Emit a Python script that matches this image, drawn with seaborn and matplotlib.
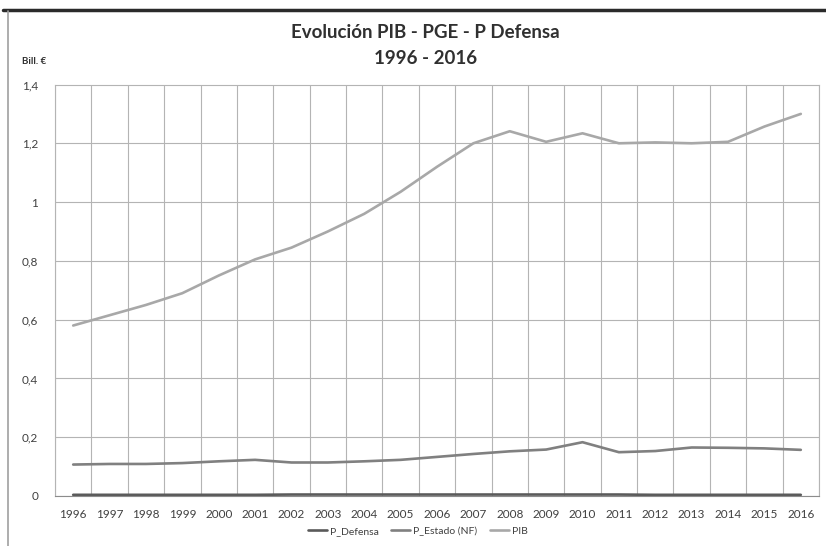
import pandas as pd
import matplotlib.pyplot as plt
import seaborn as sns
from matplotlib.lines import Line2D
from matplotlib.ticker import FuncFormatter, MultipleLocator

# ------------------------------------------------------------
# DATA (billones de euros)
# ------------------------------------------------------------
years = list(range(1996, 2017))
pib = [0.580, 0.615, 0.650, 0.690, 0.750, 0.805, 0.845, 0.900, 0.960, 1.035,
       1.120, 1.200, 1.241, 1.205, 1.234, 1.200, 1.203, 1.200, 1.205, 1.257, 1.300]
p_estado = [0.107, 0.109, 0.109, 0.112, 0.118, 0.123, 0.114, 0.114, 0.118, 0.123,
            0.133, 0.143, 0.152, 0.158, 0.183, 0.149, 0.153, 0.165, 0.164, 0.162, 0.157]
p_defensa = [0.004, 0.004, 0.004, 0.004, 0.004, 0.004, 0.005, 0.005, 0.005, 0.005,
             0.005, 0.005, 0.005, 0.005, 0.005, 0.005, 0.004, 0.004, 0.004, 0.004, 0.004]

series_names = ['P_Defensa', 'P_Estado (NF)', 'PIB']
colors = {'P_Defensa': '#5a5a5a', 'P_Estado (NF)': '#808080', 'PIB': '#a8a8a8'}

df = pd.DataFrame({'Año': years, 'P_Defensa': p_defensa,
                   'P_Estado (NF)': p_estado, 'PIB': pib})
long_df = df.melt(id_vars='Año', var_name='Serie', value_name='Valor')

# ------------------------------------------------------------
# PLOT
# ------------------------------------------------------------
sns.set_style('white')
plt.rcParams['font.family'] = ['Lato', 'DejaVu Sans']

fig = plt.figure(figsize=(8.26, 5.46), dpi=100)
ax = fig.add_axes([55 / 826, 50 / 546, 764 / 826, 411.5 / 546])

sns.lineplot(data=long_df, x='Año', y='Valor', hue='Serie', hue_order=series_names,
             palette=colors, linewidth=1.9, ax=ax, legend=False)

ax.set_xlim(1995.5, 2016.5)
ax.set_ylim(0, 1.4)
ax.set_xticks(years)
ax.set_xticklabels([str(y) for y in years])
ax.xaxis.set_minor_locator(MultipleLocator(1, offset=0.5))
ax.yaxis.set_major_locator(MultipleLocator(0.2))
ax.yaxis.set_major_formatter(FuncFormatter(
    lambda v, _: '0' if abs(v) < 1e-9 else ('1' if abs(v - 1) < 1e-9 else f'{v:.1f}'.replace('.', ','))))
ax.grid(False)
ax.grid(True, which='minor', axis='x', color='#b4b4b4', linewidth=0.8)
ax.grid(True, which='major', axis='y', color='#b4b4b4', linewidth=0.8)
ax.tick_params(which='both', length=0, labelsize=8.5, colors='#404040')
ax.tick_params(axis='x', pad=9)
ax.tick_params(axis='y', pad=12)
ax.set_xlabel('')
ax.set_ylabel('')
for side, sp in ax.spines.items():
    sp.set_color('#b4b4b4')
    sp.set_linewidth(0.8)
ax.spines['bottom'].set_color('#8c8c8c')

fig.text(0.515, 1 - 33 / 546, 'Evolución PIB - PGE - P Defensa', ha='center', va='center',
         fontsize=13.5, fontweight='bold', color='#303030')
fig.text(0.515, 1 - 58 / 546, '1996 - 2016', ha='center', va='center',
         fontsize=13.5, fontweight='bold', color='#303030')
fig.text(22 / 826, 1 - 62 / 546, 'Bill. €', ha='left', va='center',
         fontsize=7, fontweight='bold', color='#303030')

handles = [Line2D([0], [0], color=colors[s], lw=1.9) for s in series_names]
fig.legend(handles, series_names, loc='center', bbox_to_anchor=(418 / 826, 1 - 531 / 546),
           ncol=3, frameon=False, fontsize=7.5, handlelength=1.8, handletextpad=0.3,
           columnspacing=1.2, labelcolor='#404040')

# chart frame lines
fig.add_artist(Line2D([3 / 826, 1], [1 - 10 / 546, 1 - 10 / 546], color='#2a2a2a', lw=2.5))
fig.add_artist(Line2D([8 / 826, 8 / 826], [0, 1 - 11 / 546], color='#a0a0a0', lw=1.2))

fig.savefig('out.png', dpi=100)
